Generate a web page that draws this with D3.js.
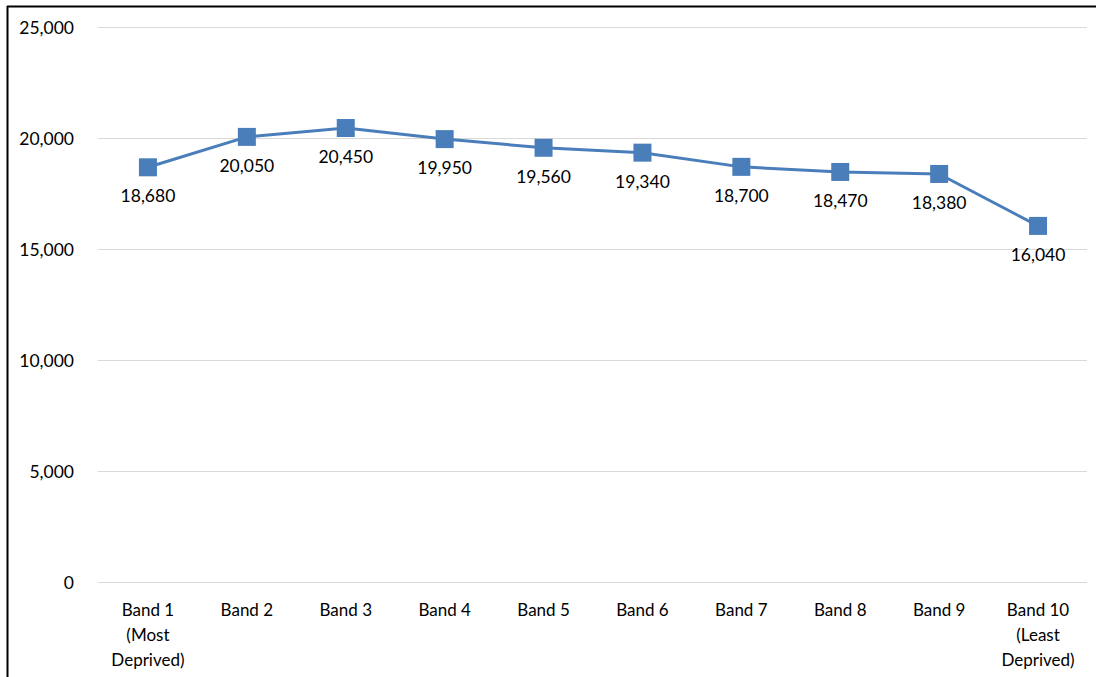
<!DOCTYPE html>
<html><head><meta charset="utf-8">
<script src="https://cdn.jsdelivr.net/npm/d3@7"></script>
<style>body{margin:0;background:#fff;} svg{display:block;}</style>
</head><body>
<svg id="c" width="1096" height="677"></svg>
<script>
const categories = [["Band 1","(Most","Deprived)"],["Band 2"],["Band 3"],["Band 4"],["Band 5"],["Band 6"],["Band 7"],["Band 8"],["Band 9"],["Band 10","(Least","Deprived)"]];
const values = [18680,20050,20450,19950,19560,19340,18700,18470,18380,16040];
const yTicks = [0,5000,10000,15000,20000,25000];

const svg = d3.select("#c");
const font = "Lato, 'Open Sans', sans-serif";
const x = d3.scaleBand().domain(d3.range(categories.length)).range([98.5,1087.5]);
const y = d3.scaleLinear().domain([0,25000]).range([582,27]);

// border
svg.append("line").attr("x1",7).attr("x2",1096).attr("y1",6.5).attr("y2",6.5).attr("stroke","#000").attr("stroke-width",2);
svg.append("line").attr("x1",7.5).attr("x2",7.5).attr("y1",6).attr("y2",677).attr("stroke","#000").attr("stroke-width",2);

// grid
svg.append("g").selectAll("line").data(yTicks).join("line")
  .attr("x1",98).attr("x2",1087).attr("y1",d=>Math.round(y(d))+0.5).attr("y2",d=>Math.round(y(d))+0.5)
  .attr("stroke","#d9d9d9").attr("stroke-width",1);

// y axis labels
const yAxis = d3.axisLeft(y).tickValues(yTicks).tickFormat(d3.format(",")).tickSize(0).tickPadding(0);
const ya = svg.append("g").attr("transform","translate(74,0)").call(yAxis);
ya.select(".domain").remove();
ya.selectAll("text").attr("font-family",font).attr("font-size",17.5).attr("fill","#000").attr("dy","0.35em");

// x labels
const xg = svg.append("g");
categories.forEach((lines,i)=>{
  const t = xg.append("text").attr("x",x(i)+x.bandwidth()/2).attr("y",616)
    .attr("text-anchor","middle").attr("font-family",font).attr("font-size",17).attr("fill","#000");
  lines.forEach((l,j)=>t.append("tspan").attr("x",x(i)+x.bandwidth()/2).attr("dy",j?25:0).text(l));
});

// line
const cx = i=>x(i)+x.bandwidth()/2;
svg.append("path").datum(values)
  .attr("d",d3.line().x((d,i)=>cx(i)).y(d=>y(d)))
  .attr("fill","none").attr("stroke","#4a7ebb").attr("stroke-width",3).attr("stroke-linejoin","round");

// markers
svg.append("g").selectAll("rect").data(values).join("rect")
  .attr("x",(d,i)=>cx(i)-9).attr("y",d=>y(d)-9).attr("width",18).attr("height",18)
  .attr("fill","#4a7ebb");

// labels
svg.append("g").selectAll("text").data(values).join("text")
  .attr("x",(d,i)=>cx(i)).attr("y",d=>y(d)+35)
  .attr("text-anchor","middle").attr("font-family",font).attr("font-size",17.5).attr("fill","#000")
  .text(d=>d3.format(",")(d));
</script>
</body></html>
